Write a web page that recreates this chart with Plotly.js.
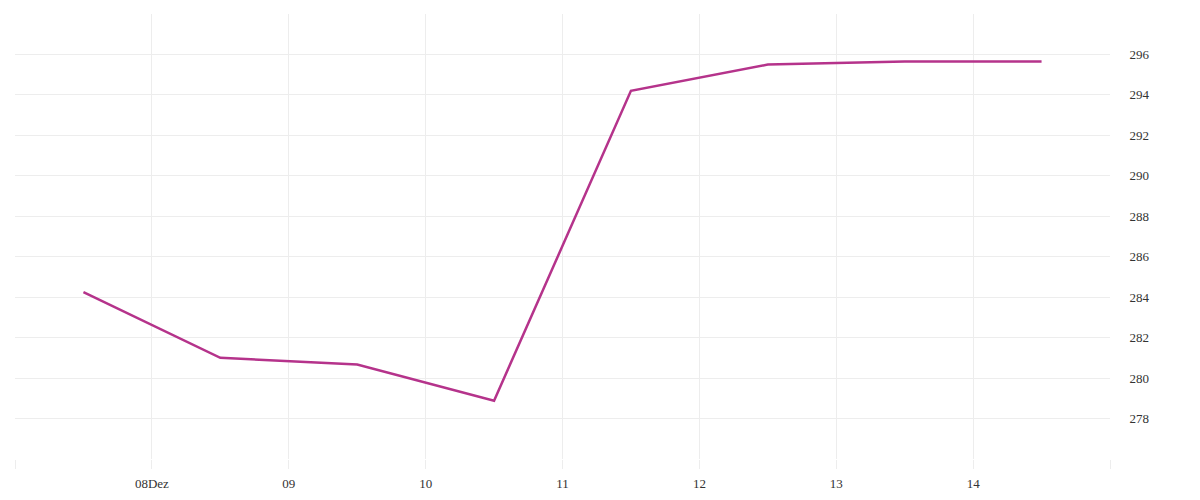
<!DOCTYPE html>
<html>
<head>
<meta charset="utf-8">
<script src="https://cdn.plot.ly/plotly-3.0.1.min.js"></script>
<style>html,body{margin:0;padding:0;background:#fff;}#chart{width:1200px;height:500px;}</style>
</head>
<body>
<div id="chart"></div>
<script>
const dates = ["2023-12-07 12:00","2023-12-08 12:00","2023-12-09 12:00","2023-12-10 12:00","2023-12-11 12:00","2023-12-12 12:00","2023-12-13 12:00","2023-12-14 12:00"];
const values = [284.25, 281.0, 280.67, 278.88, 294.2, 295.5, 295.65, 295.65];
const xTickVals = ["2023-12-07","2023-12-08","2023-12-09","2023-12-10","2023-12-11","2023-12-12","2023-12-13","2023-12-14","2023-12-15"];
const xTickText = ["","08Dez","09","10","11","12","13","14",""];
const yTickVals = [276,278,280,282,284,286,288,290,292,294,296,298];
const yTickText = ["","278","280","282","284","286","288","290","292","294","296",""];

const grid = "#ededed";
const font = {family: "Liberation Serif, DejaVu Serif, serif", size: 13, color: "#333"};

Plotly.newPlot("chart", [{
  x: dates, y: values, type: "scatter", mode: "lines",
  line: {color: "#b5338b", width: 2.5},
  hoverinfo: "x+y"
}], {
  width: 1200, height: 500,
  margin: {l: 15, r: 90, t: 14, b: 41},
  paper_bgcolor: "#fff", plot_bgcolor: "#fff",
  showlegend: false,
  font: font,
  xaxis: {
    type: "date", range: ["2023-12-07", "2023-12-15"],
    tickmode: "array", tickvals: xTickVals, ticktext: xTickText,
    showgrid: true, gridcolor: grid, gridwidth: 1,
    ticks: "outside", ticklen: 9, tickcolor: grid, tickwidth: 1,
    showline: false, zeroline: false,
    ticklabelstandoff: 3,
    tickfont: font
  },
  yaxis: {
    side: "right", range: [276, 298],
    tickmode: "array", tickvals: yTickVals, ticktext: yTickText,
    showgrid: true, gridcolor: grid, gridwidth: 1,
    ticks: "outside", ticklen: 16, tickcolor: "rgba(0,0,0,0)",
    showline: false, zeroline: false,
    tickfont: font
  }
}, {displayModeBar: false});
</script>
</body>
</html>
